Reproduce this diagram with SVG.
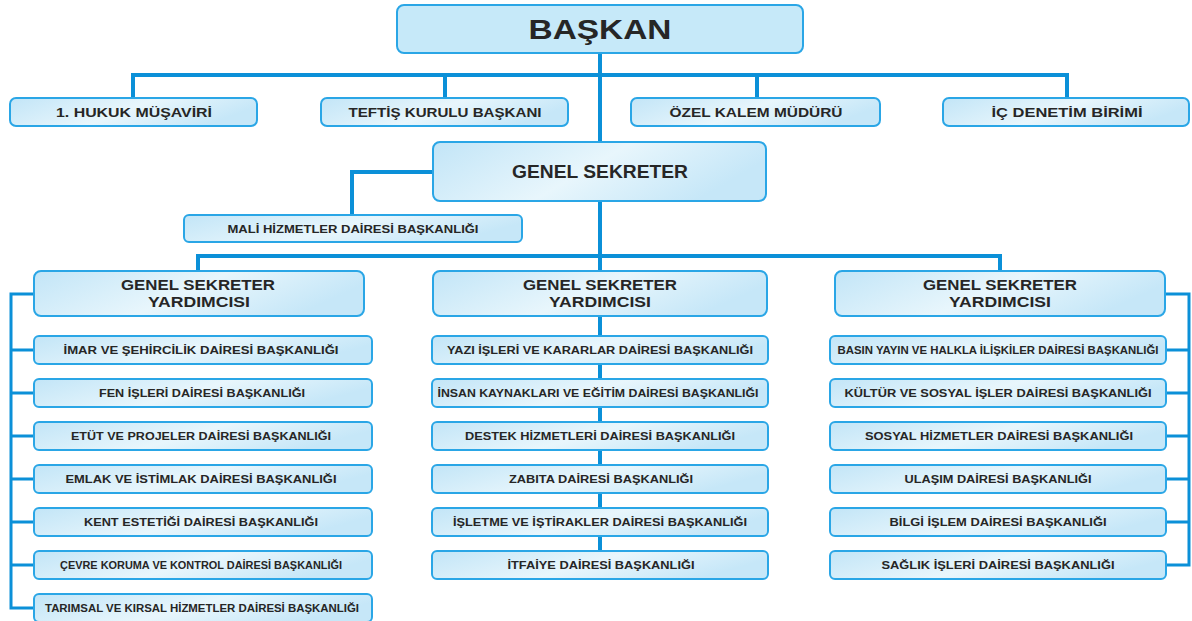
<svg xmlns="http://www.w3.org/2000/svg" width="1192" height="621" viewBox="0 0 1192 621">
<defs>
<linearGradient id="g" x1="0" y1="0" x2="1" y2="0.3">
<stop offset="0" stop-color="#c2e5f7"/>
<stop offset="0.55" stop-color="#e8f6fc"/>
<stop offset="1" stop-color="#c6e7f8"/>
</linearGradient>
<style>
.b{fill:url(#g);stroke:#2aa6e6;stroke-width:2}
.top{fill:#c6e9f9;stroke:#2aa6e6;stroke-width:2}
.c{fill:none;stroke:#0b90d8;stroke-linejoin:miter;stroke-linecap:square}
.t{font-family:"Liberation Sans",Arial,sans-serif;font-weight:bold;fill:#262626;text-anchor:middle}
.s{font-size:11px}
</style>
</defs>
<rect width="1192" height="621" fill="#ffffff"/>
<g id="connectors">
<path class="c" stroke-width="4" d="M600 53 V551"/>
<path class="c" stroke-width="4" d="M133 98 V75 H1067 V98 M445 75 V98 M757 75 V98"/>
<path class="c" stroke-width="4" d="M433 172 H352 V215"/>
<path class="c" stroke-width="4" d="M198 270 V256 H1000 V270"/>
<path class="c" stroke-width="3" d="M34 294 H11 V608 H34 M11 350 H34 M11 393 H34 M11 436 H34 M11 479 H34 M11 522 H34 M11 565 H34"/>
<path class="c" stroke-width="3" d="M1165 294 H1189 V565 H1166 M1166 350 H1189 M1166 393 H1189 M1166 436 H1189 M1166 479 H1189 M1166 522 H1189"/>
</g>
<g id="baskan"><rect class="top" x="397" y="5" width="406" height="48" rx="7"/><text class="t" x="600" y="39" font-size="28" textLength="143" lengthAdjust="spacingAndGlyphs">BAŞKAN</text></g>
<g id="hukuk"><rect class="b" x="10" y="98" width="247" height="28" rx="6"/><text class="t" x="134" y="117" font-size="13" textLength="156" lengthAdjust="spacingAndGlyphs">1. HUKUK MÜŞAVİRİ</text></g>
<g id="teftis"><rect class="b" x="321" y="98" width="247" height="28" rx="6"/><text class="t" x="445" y="117" font-size="13" textLength="193" lengthAdjust="spacingAndGlyphs">TEFTİŞ KURULU BAŞKANI</text></g>
<g id="ozel"><rect class="b" x="631" y="98" width="249" height="28" rx="6"/><text class="t" x="756" y="117" font-size="13" textLength="173" lengthAdjust="spacingAndGlyphs">ÖZEL KALEM MÜDÜRÜ</text></g>
<g id="ic"><rect class="b" x="943" y="98" width="246" height="28" rx="6"/><text class="t" x="1067" y="117" font-size="13" textLength="151" lengthAdjust="spacingAndGlyphs">İÇ DENETİM BİRİMİ</text></g>
<g id="genel"><rect class="b" x="433" y="142" width="333" height="59" rx="7"/><text class="t" x="600" y="178" font-size="18" textLength="176" lengthAdjust="spacingAndGlyphs">GENEL SEKRETER</text></g>
<g id="mali"><rect class="b" x="184" y="215" width="338" height="27" rx="5"/><text class="t" x="353" y="232.5" font-size="10.5" textLength="251" lengthAdjust="spacingAndGlyphs">MALİ HİZMETLER DAİRESİ BAŞKANLIĞI</text></g>
<g id="gsy1"><rect class="b" x="34" y="271" width="330" height="45" rx="7"/><text class="t" x="198" y="290" font-size="15" textLength="154" lengthAdjust="spacingAndGlyphs">GENEL SEKRETER</text><text class="t" x="199" y="307" font-size="15" textLength="102" lengthAdjust="spacingAndGlyphs">YARDIMCISI</text></g>
<g id="gsy2"><rect class="b" x="433" y="271" width="334" height="45" rx="7"/><text class="t" x="600" y="290" font-size="15" textLength="154" lengthAdjust="spacingAndGlyphs">GENEL SEKRETER</text><text class="t" x="600" y="307" font-size="15" textLength="102" lengthAdjust="spacingAndGlyphs">YARDIMCISI</text></g>
<g id="gsy3"><rect class="b" x="835" y="271" width="330" height="45" rx="7"/><text class="t" x="1000" y="290" font-size="15" textLength="154" lengthAdjust="spacingAndGlyphs">GENEL SEKRETER</text><text class="t" x="1000" y="307" font-size="15" textLength="102" lengthAdjust="spacingAndGlyphs">YARDIMCISI</text></g>
<g id="l1"><rect class="b" x="34" y="336" width="338" height="28" rx="5"/><text class="t s" x="201" y="354" textLength="275" lengthAdjust="spacingAndGlyphs">İMAR VE ŞEHİRCİLİK DAİRESİ BAŞKANLIĞI</text></g>
<g id="l2"><rect class="b" x="34" y="379" width="338" height="28" rx="5"/><text class="t s" x="202" y="397" textLength="206" lengthAdjust="spacingAndGlyphs">FEN İŞLERİ DAİRESİ BAŞKANLIĞI</text></g>
<g id="l3"><rect class="b" x="34" y="422" width="338" height="28" rx="5"/><text class="t s" x="201" y="440" textLength="260" lengthAdjust="spacingAndGlyphs">ETÜT VE PROJELER DAİRESİ BAŞKANLIĞI</text></g>
<g id="l4"><rect class="b" x="34" y="465" width="338" height="28" rx="5"/><text class="t s" x="201" y="483" textLength="271" lengthAdjust="spacingAndGlyphs">EMLAK VE İSTİMLAK DAİRESİ BAŞKANLIĞI</text></g>
<g id="l5"><rect class="b" x="34" y="508" width="338" height="28" rx="5"/><text class="t s" x="201" y="526" textLength="234" lengthAdjust="spacingAndGlyphs">KENT ESTETİĞİ DAİRESİ BAŞKANLIĞI</text></g>
<g id="l6"><rect class="b" x="34" y="551" width="338" height="28" rx="5"/><text class="t s" x="201" y="569" textLength="282" lengthAdjust="spacingAndGlyphs">ÇEVRE KORUMA VE KONTROL DAİRESİ BAŞKANLIĞI</text></g>
<g id="l7"><rect class="b" x="34" y="594" width="338" height="28" rx="5"/><text class="t s" x="202" y="612" textLength="314" lengthAdjust="spacingAndGlyphs">TARIMSAL VE KIRSAL HİZMETLER DAİRESİ BAŞKANLIĞI</text></g>
<g id="m1"><rect class="b" x="432" y="336" width="336" height="28" rx="5"/><text class="t s" x="600" y="354" textLength="306" lengthAdjust="spacingAndGlyphs">YAZI İŞLERİ VE KARARLAR DAİRESİ BAŞKANLIĞI</text></g>
<g id="m2"><rect class="b" x="432" y="379" width="336" height="28" rx="5"/><text class="t s" x="598" y="397" textLength="321" lengthAdjust="spacingAndGlyphs">İNSAN KAYNAKLARI VE EĞİTİM DAİRESİ BAŞKANLIĞI</text></g>
<g id="m3"><rect class="b" x="432" y="422" width="336" height="28" rx="5"/><text class="t s" x="600" y="440" textLength="270" lengthAdjust="spacingAndGlyphs">DESTEK HİZMETLERİ DAİRESİ BAŞKANLIĞI</text></g>
<g id="m4"><rect class="b" x="432" y="465" width="336" height="28" rx="5"/><text class="t s" x="601" y="483" textLength="184" lengthAdjust="spacingAndGlyphs">ZABITA DAİRESİ BAŞKANLIĞI</text></g>
<g id="m5"><rect class="b" x="432" y="508" width="336" height="28" rx="5"/><text class="t s" x="600" y="526" textLength="294" lengthAdjust="spacingAndGlyphs">İŞLETME VE İŞTİRAKLER DAİRESİ BAŞKANLIĞI</text></g>
<g id="m6"><rect class="b" x="432" y="551" width="336" height="28" rx="5"/><text class="t s" x="601" y="569" textLength="187" lengthAdjust="spacingAndGlyphs">İTFAİYE DAİRESİ BAŞKANLIĞI</text></g>
<g id="r1"><rect class="b" x="830" y="336" width="336" height="28" rx="5"/><text class="t s" x="998" y="354" textLength="321" lengthAdjust="spacingAndGlyphs">BASIN YAYIN VE HALKLA İLİŞKİLER DAİRESİ BAŞKANLIĞI</text></g>
<g id="r2"><rect class="b" x="830" y="379" width="336" height="28" rx="5"/><text class="t s" x="998" y="397" textLength="307" lengthAdjust="spacingAndGlyphs">KÜLTÜR VE SOSYAL İŞLER DAİRESİ BAŞKANLIĞI</text></g>
<g id="r3"><rect class="b" x="830" y="422" width="336" height="28" rx="5"/><text class="t s" x="999" y="440" textLength="268" lengthAdjust="spacingAndGlyphs">SOSYAL HİZMETLER DAİRESİ BAŞKANLIĞI</text></g>
<g id="r4"><rect class="b" x="830" y="465" width="336" height="28" rx="5"/><text class="t s" x="998" y="483" textLength="187" lengthAdjust="spacingAndGlyphs">ULAŞIM DAİRESİ BAŞKANLIĞI</text></g>
<g id="r5"><rect class="b" x="830" y="508" width="336" height="28" rx="5"/><text class="t s" x="998" y="526" textLength="217" lengthAdjust="spacingAndGlyphs">BİLGİ İŞLEM DAİRESİ BAŞKANLIĞI</text></g>
<g id="r6"><rect class="b" x="830" y="551" width="336" height="28" rx="5"/><text class="t s" x="998" y="569" textLength="233" lengthAdjust="spacingAndGlyphs">SAĞLIK İŞLERİ DAİRESİ BAŞKANLIĞI</text></g>
</svg>
